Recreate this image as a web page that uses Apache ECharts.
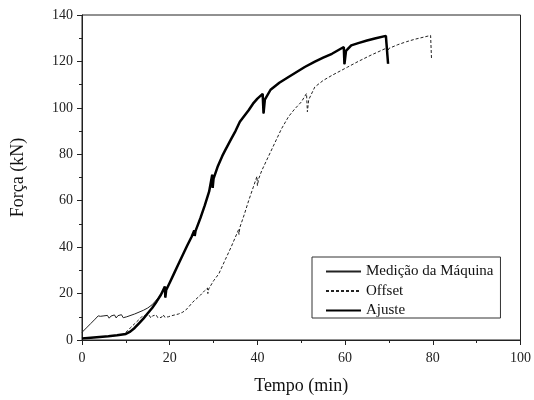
<!DOCTYPE html>
<html>
<head>
<meta charset="utf-8">
<script src="https://cdn.jsdelivr.net/npm/echarts@6/dist/echarts.min.js"></script>
<style>html,body{margin:0;padding:0;background:#fff}#c{width:534px;height:400px}</style>
</head>
<body>
<div id="c"></div>
<script>
// Medição da Máquina (thin solid)
var medicaoT = [0, 1, 2, 3, 3.7, 4.2, 4.6, 5.0, 5.4, 5.8, 6.2, 6.6, 7.0, 7.4, 7.8, 8.2, 8.6, 9.0, 9.4, 9.8, 10.2, 10.6,
  12, 13, 14, 15, 16, 17, 18, 18.9, 19.0, 19.2, 20, 21, 22, 23, 24, 25, 25.6, 25.7, 25.9, 27, 28, 29, 29.7, 29.8, 30.0,
  31, 32, 32.7, 34, 35, 36, 38, 39, 40, 41.2, 41.4, 41.7, 43, 45, 47.1, 50.8, 53, 55, 57, 59.7, 59.85, 60.2, 61.4, 63, 65, 67, 69.3, 69.7, 69.8];
var medicaoF = [3.3, 5.2, 7.1, 9.0, 10.4, 10.2, 9.6, 10.4, 9.8, 10.6, 9.4, 10.3, 9.9, 10.8, 9.5, 10.5, 9.7, 10.9, 9.6, 10.4, 10.0, 10.3,
  11.2, 12.0, 12.8, 13.8, 15.2, 17.3, 19.5, 23.0, 18.3, 21.5, 24.7, 28.7, 32.7, 36.7, 40.7, 44.5, 47.2, 44.8, 47.0, 52.5, 58, 64, 71.2, 65.5, 69.5,
  75, 79.3, 81.9, 86.5, 90, 94, 99, 101.8, 104, 106, 97.6, 103.5, 107.8, 110.8, 113.3, 117.6, 119.8, 121.6, 123.3, 126.2, 118.8, 124.5, 126.9, 127.9, 129, 130, 131, 131.3, 119];

// Offset (dashed)
var offsetT = [10, 11, 12, 13, 13.7, 14.1, 14.5, 14.9, 15.3, 15.7, 16.1, 16.5, 16.9, 17.3, 17.7, 18.1, 18.5, 18.9, 19.3, 19.7, 20.3,
  22, 23, 24, 25.2, 26, 27, 28, 28.6, 28.7, 28.9, 30, 31.2, 32.7, 34, 35.7, 35.8, 36, 37, 38, 39, 39.9, 40.0, 40.3, 41, 42.5, 44, 45.5, 47.1,
  48.5, 50, 51.2, 51.4, 51.7, 53.1, 55, 57, 60.6, 63, 66, 69.5, 69.7, 70, 72, 74, 76, 78, 79.5, 79.7];
var offsetF = [3.3, 5.2, 7.0, 8.8, 10.2, 9.6, 10.5, 9.8, 10.7, 9.5, 10.4, 9.9, 10.8, 9.6, 10.3, 9.7, 10.9, 9.8, 10.5, 10.0, 10.4,
  11.2, 12.0, 13.5, 16.2, 17.6, 19.3, 21.3, 22.4, 20.0, 22.0, 25.5, 28.5, 34.7, 40, 47.5, 45.5, 48.5, 54, 60, 65.5, 70.5, 66.5, 69.5, 73, 79, 85, 91, 96.2,
  99.5, 102.5, 106.2, 98.3, 103.5, 109, 111.8, 114, 117.6, 120, 122.8, 125.8, 124.3, 125.6, 127.2, 128.5, 129.6, 130.5, 131.2, 121.2];

// Ajuste (thick solid)
var ajusteT = [0, 2, 4, 6, 8, 10, 11, 12, 13, 14, 15, 16, 17, 18, 18.9, 19.0, 19.2, 20, 21, 22, 23, 24, 25, 25.6, 25.7, 25.9, 27, 28, 29, 29.7, 29.8, 30.0,
  31, 32, 32.7, 34, 35, 36, 38, 39, 40, 41.2, 41.4, 41.7, 43, 45, 47.1, 50.8, 53, 55, 57, 59.7, 59.85, 60.2, 61.4, 63, 65, 67, 69.3, 69.7, 69.8];
var ajusteF = [0.7, 1.0, 1.3, 1.6, 2.0, 2.6, 3.6, 5.2, 7.2, 9.2, 11.5, 13.8, 16.5, 19.5, 23.0, 18.3, 21.5, 24.7, 28.7, 32.7, 36.7, 40.7, 44.5, 47.2, 44.8, 47.0, 52.5, 58, 64, 71.2, 65.5, 69.5,
  75, 79.3, 81.9, 86.5, 90, 94, 99, 101.8, 104, 106, 97.6, 103.5, 107.8, 110.8, 113.3, 117.6, 119.8, 121.6, 123.3, 126.2, 118.8, 124.5, 126.9, 127.9, 129, 130, 131, 131.3, 119];

var xTicks = [0, 20, 40, 60, 80, 100];
var yTicks = [0, 20, 40, 60, 80, 100, 120, 140];

function zip(t, f) { return t.map(function (v, i) { return [v, f[i]]; }); }

var font = 'Liberation Serif';
var chart = echarts.init(document.getElementById('c'), null, { renderer: 'canvas' });
chart.setOption({
  animation: false,
  backgroundColor: '#fff',
  grid: { left: 82, right: 10, top: 15, bottom: 59, show: true, borderColor: '#222', borderWidth: 1, backgroundColor: 'transparent' },
  legend: {
    orient: 'vertical', left: 312, top: 257,
    itemWidth: 35, itemHeight: 14, itemGap: 4.5,
    padding: [7, 7, 0, 13],
    borderColor: '#333', borderWidth: 1, backgroundColor: '#fff',
    itemStyle: { opacity: 0 },
    textStyle: { fontFamily: font, fontSize: 15, color: '#111' },
    data: ['Medição da Máquina', 'Offset', 'Ajuste']
  },
  xAxis: {
    type: 'value', min: xTicks[0], max: xTicks[xTicks.length - 1], interval: 20,
    name: 'Tempo (min)', nameLocation: 'middle', nameGap: 37,
    nameTextStyle: { fontFamily: font, fontSize: 18, color: '#111' },
    axisLine: { show: true, lineStyle: { color: '#222', width: 1 } },
    axisTick: { show: true, length: 5, lineStyle: { color: '#222' } },
    minorTick: { show: true, splitNumber: 2, length: 3, lineStyle: { color: '#222' } },
    splitLine: { show: false },
    axisLabel: { fontFamily: font, fontSize: 14, color: '#222', margin: 11 }
  },
  yAxis: {
    type: 'value', min: yTicks[0], max: yTicks[yTicks.length - 1], interval: 20,
    name: 'Força (kN)', nameLocation: 'middle', nameGap: 55, nameRotate: 90,
    nameTextStyle: { fontFamily: font, fontSize: 18, color: '#111' },
    axisLine: { show: true, lineStyle: { color: '#222', width: 1 } },
    axisTick: { show: true, length: 5, lineStyle: { color: '#222' } },
    minorTick: { show: true, splitNumber: 2, length: 3, lineStyle: { color: '#222' } },
    splitLine: { show: false },
    axisLabel: { fontFamily: font, fontSize: 14, color: '#222', margin: 9 }
  },
  series: [
    { name: 'Medição da Máquina', type: 'line', data: zip(medicaoT, medicaoF), symbol: 'none', showSymbol: false,
      lineStyle: { color: '#222', width: 1 }, itemStyle: { color: '#222' }, z: 2 },
    { name: 'Offset', type: 'line', data: zip(offsetT, offsetF), symbol: 'none', showSymbol: false,
      lineStyle: { color: '#222', width: 1, type: [3, 2] }, itemStyle: { color: '#222' }, z: 3 },
    { name: 'Ajuste', type: 'line', data: zip(ajusteT, ajusteF), symbol: 'none', showSymbol: false,
      lineStyle: { color: '#000', width: 2.5 }, itemStyle: { color: '#000' }, z: 4 }
  ]
});
</script>
</body>
</html>
